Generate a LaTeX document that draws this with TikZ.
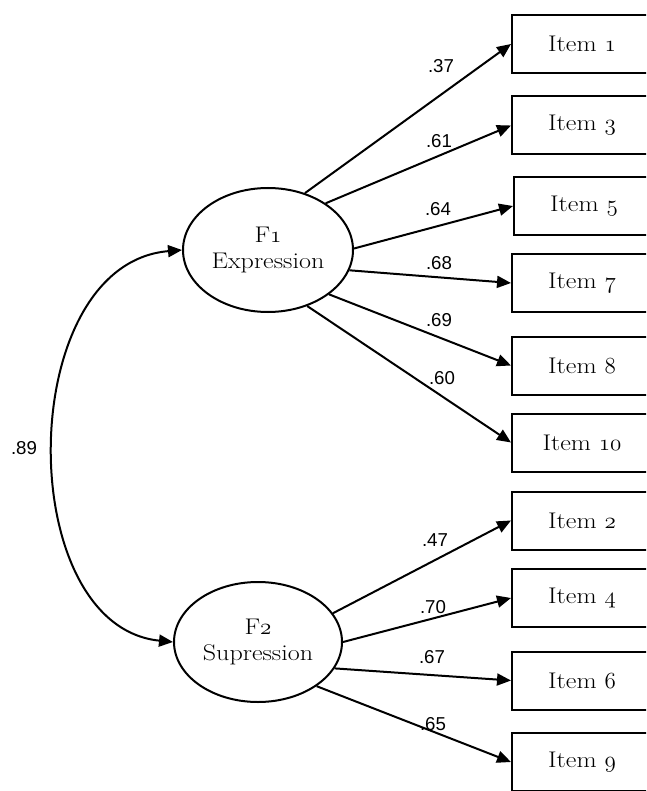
\documentclass[tikz,border=0pt]{standalone}
\usepackage{fontspec}
\setmainfont{Latin Modern Roman}[FakeStretch=1.15]
\usetikzlibrary{arrows.meta,shapes.geometric}
\newfontfamily\labfont{Liberation Sans}
\newcommand\osn[1]{{\usefont{OML}{cmm}{m}{it}#1}}
\begin{document}
\begin{tikzpicture}[x=0.75pt,y=-0.75pt,
  latent/.style={draw,ellipse,line width=1.5pt,inner sep=0pt,align=center,
    font=\fontsize{17}{19}\selectfont},
  itembox/.style={draw,rectangle,line width=1.5pt,anchor=west,minimum width=105pt,
    minimum height=43.5pt,inner sep=0pt,font=\fontsize{17}{19}\selectfont},
  tip/.tip={Triangle[length=10.5pt,width=9pt]},
  path/.style={line width=1.5pt,-tip},
  coef/.style={font=\labfont\fontsize{14}{16}\selectfont,inner sep=0pt}]
\useasboundingbox (0,0) rectangle (646,791);
\clip (0,0) rectangle (646,791);
% latent factors
\node[latent,minimum width=127.5pt,minimum height=93pt] (F1) at (268,250) {F\osn{1}\\Expression};
\node[latent,minimum width=126pt,minimum height=90pt] (F2) at (258,642) {F\osn{2}\\Supression};
% items
\node[itembox] (I1) at (511,44) {Item \osn{1}};
\node[itembox] (I3) at (511,125.5) {Item \osn{3}};
\node[itembox] (I5) at (513,206) {Item \osn{5}};
\node[itembox] (I7) at (511,283) {Item \osn{7}};
\node[itembox] (I8) at (511,365.5) {Item \osn{8}};
\node[itembox] (I10) at (511,442.5) {Item \osn{10}};
\node[itembox] (I2) at (511,520.5) {Item \osn{2}};
\node[itembox] (I4) at (511,598) {Item \osn{4}};
\node[itembox] (I6) at (511,680.5) {Item \osn{6}};
\node[itembox] (I9) at (511,762) {Item \osn{9}};
% paths F1
\draw[path] (F1.57) -- (I1.west);
\draw[path] (F1.39) -- (I3.west);
\draw[path] (F1.1) -- (I5.west);
\draw[path] (F1.-14) -- (I7.west);
\draw[path] (F1.-36) -- (I8.west);
\draw[path] (F1.-55) -- (I10.west);
% paths F2
\draw[path] (F2.21) -- (I2.west);
\draw[path] (F2.0) -- (I4.west);
\draw[path] (F2.-19) -- (I6.west);
\draw[path] (F2.-37) -- (I9.west);
% covariance
\draw[line width=1.5pt,tip-tip]
  (F1.west) .. controls (14,264) and (12,626) .. (F2.west);
% coefficients
\node[coef] (c1) at (441,66) {.37};
\node[coef] (c3) at (439,141) {.61};
\node[coef] (c5) at (438,209) {.64};
\node[coef] (c7) at (439,263) {.68};
\node[coef] (c8) at (439,320) {.69};
\node[coef] (c10) at (442,378) {.60};
\node[coef] (c2) at (435,540) {.47};
\node[coef] (c4) at (433,607) {.70};
\node[coef] (c6) at (432,657) {.67};
\node[coef] (c9) at (433,724) {.65};
\node[coef] (cov) at (24,448) {.89};
\end{tikzpicture}
\end{document}
